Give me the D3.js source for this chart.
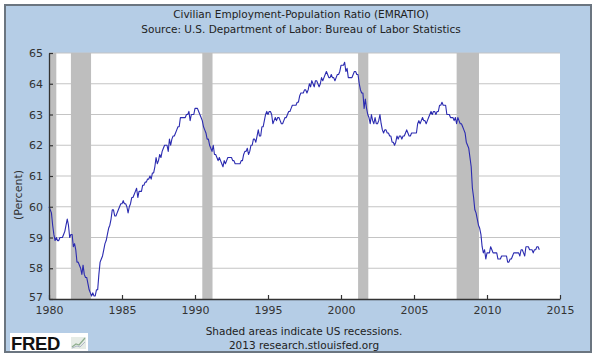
<!DOCTYPE html>
<html>
<head>
<meta charset="utf-8">
<script src="https://cdn.jsdelivr.net/npm/d3@7"></script>
<style>
html,body{margin:0;padding:0;background:#fff;}
svg{display:block;}
</style>
</head>
<body>
<svg id="chart" width="600" height="362"></svg>
<script>
// ---- data ----
const titleLines = ["Civilian Employment-Population Ratio (EMRATIO)", "Source: U.S. Department of Labor: Bureau of Labor Statistics"];
const footerLines = ["Shaded areas indicate US recessions.", "2013 research.stlouisfed.org"];
const yLabel = "(Percent)";
const startYear = 1980;
// monthly values, Jan 1980 .. Aug 2013
const emratio = [
  60.0,59.9,59.8,59.4,59.1,58.9,59.0,58.9,58.9,59.0,59.0,59.0, // 1980
  59.1,59.2,59.4,59.6,59.4,59.0,59.1,59.1,58.7,58.8,58.6,58.2, // 1981
  58.2,58.1,58.0,57.8,58.1,57.8,57.7,57.7,57.5,57.3,57.2,57.1, // 1982
  57.2,57.1,57.1,57.3,57.3,57.8,58.2,58.3,58.4,58.6,58.8,58.9, // 1983
  59.1,59.3,59.4,59.6,59.9,59.9,59.7,59.7,59.8,59.9,60.0,60.1, // 1984
  60.1,60.2,60.1,60.1,60.0,59.8,60.0,60.1,60.3,60.3,60.4,60.5, // 1985
  60.6,60.3,60.5,60.5,60.5,60.7,60.7,60.8,60.8,60.9,60.9,61.0, // 1986
  60.9,61.1,61.1,61.3,61.6,61.4,61.5,61.7,61.6,61.8,61.9,62.0, // 1987
  62.0,62.0,61.8,62.2,62.0,62.2,62.3,62.3,62.4,62.5,62.6,62.6, // 1988
  62.9,62.9,62.9,62.9,62.9,63.0,63.0,63.1,62.8,63.0,63.0,63.0, // 1989
  63.2,63.2,63.2,63.1,63.0,62.9,62.8,62.6,62.5,62.4,62.2,62.2, // 1990
  62.0,61.9,61.8,62.0,61.7,61.7,61.6,61.5,61.6,61.5,61.4,61.3, // 1991
  61.5,61.4,61.5,61.6,61.6,61.6,61.6,61.5,61.5,61.4,61.4,61.4, // 1992
  61.4,61.4,61.5,61.5,61.7,61.8,61.8,61.9,61.7,61.8,62.0,62.0, // 1993
  62.2,62.2,62.1,62.3,62.5,62.3,62.3,62.6,62.6,62.8,63.0,63.1, // 1994
  63.0,63.1,63.1,63.0,62.7,62.8,62.9,62.8,62.9,62.9,62.8,62.7, // 1995
  62.7,62.8,62.9,62.9,63.0,63.1,63.1,63.2,63.3,63.3,63.3,63.3, // 1996
  63.4,63.4,63.6,63.7,63.7,63.7,63.8,63.8,63.7,63.8,64.0,63.9, // 1997
  64.1,64.0,63.9,64.1,64.1,64.0,63.9,64.0,64.2,64.1,64.2,64.3, // 1998
  64.4,64.3,64.2,64.2,64.3,64.2,64.2,64.1,64.2,64.3,64.3,64.4, // 1999
  64.6,64.6,64.6,64.7,64.4,64.5,64.2,64.2,64.2,64.2,64.3,64.4, // 2000
  64.4,64.3,64.3,64.0,63.8,63.7,63.7,63.2,63.5,63.2,63.0,62.9, // 2001
  62.7,63.0,62.8,62.7,62.9,62.7,62.7,62.8,63.0,62.7,62.5,62.4, // 2002
  62.5,62.5,62.4,62.4,62.3,62.3,62.1,62.1,62.0,62.1,62.3,62.2, // 2003
  62.3,62.3,62.2,62.3,62.3,62.4,62.5,62.4,62.3,62.3,62.4,62.4, // 2004
  62.4,62.4,62.4,62.7,62.8,62.7,62.8,62.9,62.8,62.8,62.7,62.8, // 2005
  62.9,63.0,63.1,63.0,63.1,63.1,63.0,63.1,63.1,63.3,63.3,63.4, // 2006
  63.3,63.3,63.3,63.0,63.0,63.0,62.9,62.9,62.9,62.8,62.9,62.7, // 2007
  62.9,62.8,62.7,62.7,62.6,62.5,62.4,62.1,62.0,61.9,61.6,61.3, // 2008
  60.6,60.3,59.9,59.8,59.6,59.4,59.3,59.1,58.7,58.5,58.6,58.3, // 2009
  58.5,58.5,58.5,58.7,58.6,58.5,58.5,58.5,58.5,58.3,58.3,58.3, // 2010
  58.4,58.4,58.4,58.4,58.4,58.2,58.2,58.3,58.3,58.4,58.5,58.5, // 2011
  58.5,58.5,58.5,58.4,58.6,58.6,58.5,58.4,58.7,58.7,58.7,58.6, // 2012
  58.6,58.6,58.5,58.6,58.6,58.7,58.7,58.6                      // 2013
];
const recessionStarts = [1980.0, 1981.5, 1990.5, 2001.17, 2007.92];
const recessionEnds   = [1980.5, 1982.88, 1991.2, 2001.87, 2009.45];
const xTicks = [1980, 1985, 1990, 1995, 2000, 2005, 2010, 2015];
const yTicks = [57, 58, 59, 60, 61, 62, 63, 64, 65];

// ---- drawing ----
const svg = d3.select("#chart");
const pLeft = 49, pRight = 560, pTop = 53, pBottom = 299;
const font = "'DejaVu Sans', Verdana, sans-serif";

// panel
svg.append("rect").attr("x", 5).attr("y", 5).attr("width", 586).attr("height", 347)
  .attr("fill", "#b5cde6").attr("stroke", "#6b7580").attr("stroke-width", 2);

const x = d3.scaleLinear().domain([1980, 2015]).range([pLeft, pRight]);
const y = d3.scaleLinear().domain([57, 65]).range([pBottom, pTop]);

// plot background
svg.append("rect").attr("x", pLeft).attr("y", pTop).attr("width", pRight - pLeft).attr("height", pBottom - pTop).attr("fill", "#ffffff");

// gridlines
svg.append("g").selectAll("line").data(yTicks.slice(1)).join("line")
  .attr("x1", pLeft).attr("x2", pRight)
  .attr("y1", d => y(d)).attr("y2", d => y(d))
  .attr("stroke", "#c4c4c4").attr("stroke-width", 1.2);

// recession bars
svg.append("g").selectAll("rect").data(recessionStarts).join("rect")
  .attr("x", (d) => x(d))
  .attr("width", (d, i) => x(recessionEnds[i]) - x(d))
  .attr("y", pTop).attr("height", pBottom - pTop)
  .attr("fill", "#bebebe");

// line
const line = d3.line().x((d, i) => x(startYear + i / 12)).y(d => y(d));
svg.append("path").datum(emratio).attr("d", line)
  .attr("fill", "none").attr("stroke", "#2b2bb0").attr("stroke-width", 1.1).attr("stroke-linejoin", "round");

// axes
const xAxis = d3.axisBottom(x).tickValues(xTicks).tickFormat(d3.format("d")).tickSizeInner(-4).tickSizeOuter(0).tickPadding(7);
const gx = svg.append("g").attr("transform", `translate(0,${pBottom})`).call(xAxis);
const yAxis = d3.axisLeft(y).tickValues(yTicks).tickFormat(d3.format("d")).tickSizeInner(-4).tickSizeOuter(0).tickPadding(6);
const gy = svg.append("g").attr("transform", `translate(${pLeft},0)`).call(yAxis);
[gx, gy].forEach(g => {
  g.select(".domain").attr("stroke", "#333").attr("stroke-width", 1.3);
  g.selectAll(".tick line").attr("stroke", "#333").attr("stroke-width", 1.2);
  g.selectAll("text").attr("font-family", font).attr("font-size", 11).attr("fill", "#333");
});
gx.selectAll("text").attr("dy", "0.71em");
gy.selectAll(".tick").filter(d => d === 57).select("text").attr("dy", "0.1em");

// titles
svg.append("g").selectAll("text").data(titleLines).join("text")
  .attr("x", 301).attr("y", (d, i) => 18 + i * 15)
  .attr("text-anchor", "middle").attr("font-family", font).attr("font-size", 10.5).attr("fill", "#222")
  .text(d => d);

// footer
svg.append("g").selectAll("text").data(footerLines).join("text")
  .attr("x", 304).attr("y", (d, i) => 335 + i * 14)
  .attr("text-anchor", "middle").attr("font-family", font).attr("font-size", 10.5).attr("fill", "#222")
  .text(d => d);

// y label
svg.append("text").attr("transform", "translate(22,195) rotate(-90)")
  .attr("text-anchor", "middle").attr("font-family", font).attr("font-size", 11).attr("fill", "#333")
  .text(yLabel);

// FRED logo
const logo = svg.append("g");
logo.append("rect").attr("x", 10).attr("y", 333).attr("width", 78).attr("height", 18).attr("fill", "#ffffff");
logo.append("text").attr("x", 11).attr("y", 349.5).attr("font-family", "'Liberation Sans', Arial, sans-serif")
  .attr("font-weight", "bold").attr("font-size", 18.5).attr("fill", "#111").attr("letter-spacing", "-0.3").text("FRED");
logo.append("rect").attr("x", 71).attr("y", 337).attr("width", 15).attr("height", 12).attr("fill", "#e6ece6");
logo.append("path").attr("d", "M72,347 L76,344 L79,345 L85,338").attr("fill", "none").attr("stroke", "#8fae8f").attr("stroke-width", 1.2);
logo.append("path").attr("d", "M72,348 L77,346 L80,347 L85,342").attr("fill", "none").attr("stroke", "#b0b8c8").attr("stroke-width", 1);
</script>
</body>
</html>
